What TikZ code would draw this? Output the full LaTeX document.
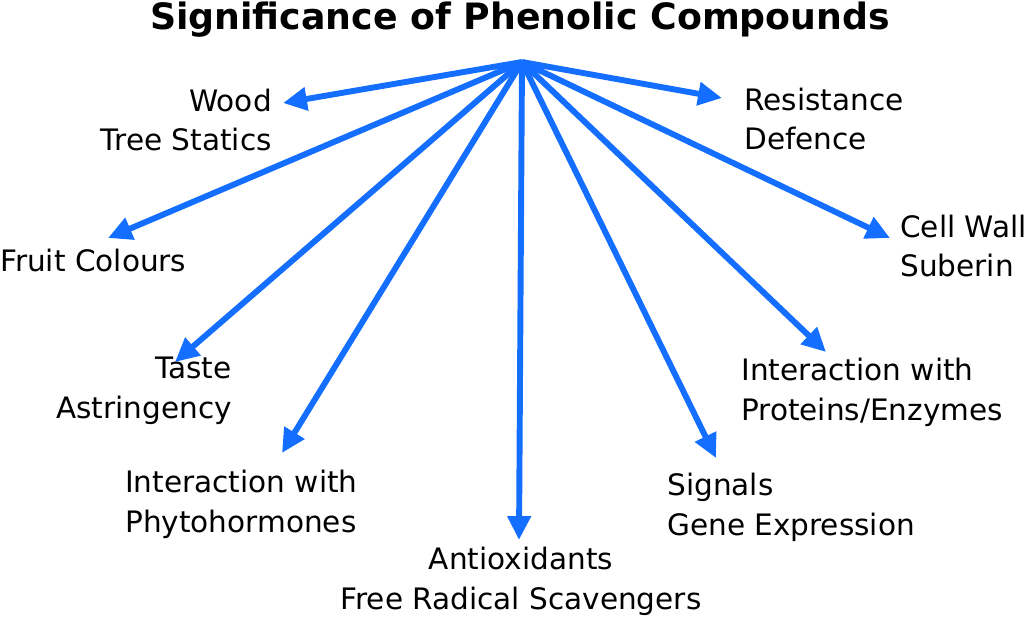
\documentclass[tikz,border=0pt]{standalone}
\usepackage{fontspec}
\setmainfont{DejaVu Sans}
\usetikzlibrary{arrows.meta}
\definecolor{arrowblue}{RGB}{20,110,255}
\tikzset{
  role/.style={inner sep=0pt,font=\fontsize{21}{28.4}\selectfont},
  link/.style={-{Triangle[length=17pt,width=16pt]},line width=4.2pt,color=arrowblue}
}
\begin{document}
\begin{tikzpicture}[x=0.025cm,y=-0.025cm]
  \useasboundingbox (0,0) rectangle (1024,621);
  \node[inner sep=0pt,font=\fontsize{25.8}{30}\selectfont\bfseries] (title) at (520,20) {Significance of Phenolic Compounds};
  \coordinate (hub) at (522,62);
  % targets
  \node[role,anchor=east,align=right] (wood) at (272,120) {Wood\\Tree Statics};
  \node[role,anchor=west,align=left] (fruit) at (0,260) {Fruit Colours};
  \node[role,anchor=east,align=right] (taste) at (232,391) {Taste\\Astringency};
  \node[role,anchor=west,align=left] (phyto) at (125,504) {Interaction with\\Phytohormones};
  \node[role,align=center] (antiox) at (521,581) {Antioxidants\\Free Radical Scavengers};
  \node[role,anchor=west,align=left] (signals) at (667,507) {Signals\\Gene Expression};
  \node[role,anchor=west,align=left] (proteins) at (741,392) {Interaction with\\Proteins/Enzymes};
  \node[role,anchor=west,align=left] (cellwall) at (900,246) {Cell Wall\\Suberin};
  \node[role,anchor=west,align=left] (resist) at (744,119) {Resistance\\Defence};
  % arrow tips
  \foreach \name/\px/\py in {wood/283/103,fruit/108/238,taste/175/362,phyto/282/453,
      antiox/519/540,signals/716/458,proteins/826/352,cellwall/890/238,resist/722/98}
    \coordinate (\name tip) at (\px,\py);
  \foreach \name in {wood,fruit,taste,phyto,antiox,signals,proteins,cellwall,resist}
    \draw[link] (hub) -- (\name tip);
\end{tikzpicture}
\end{document}
